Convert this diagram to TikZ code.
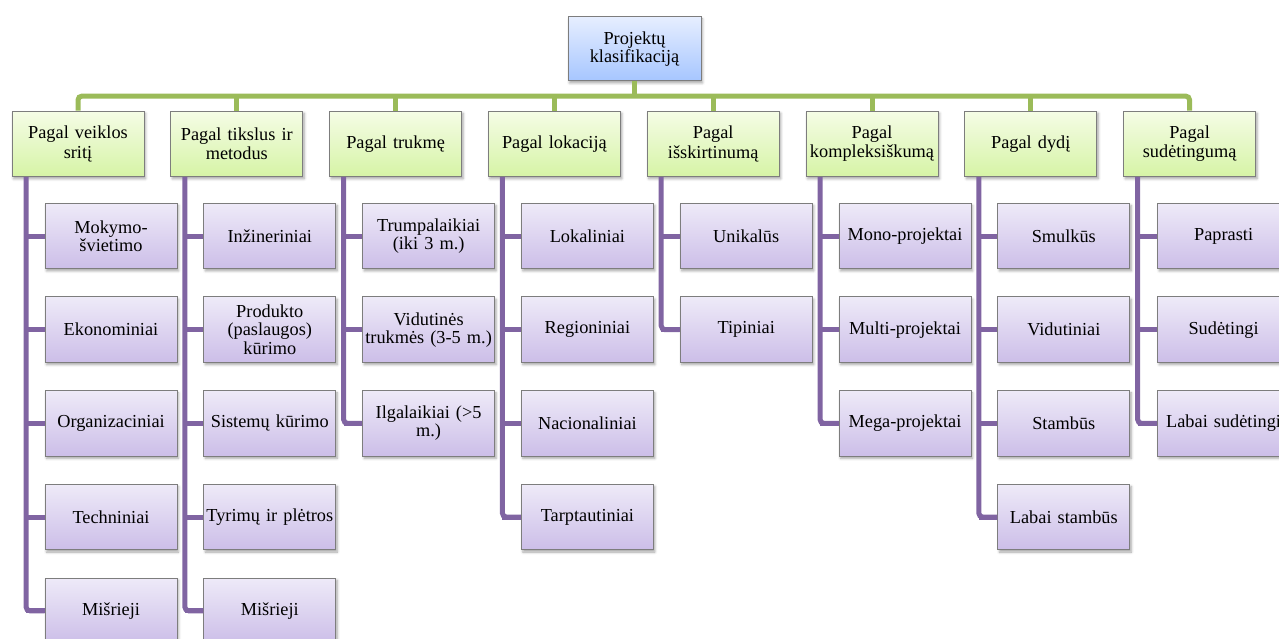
\documentclass[tikz,border=0pt]{standalone}
\usepackage{fontspec}
\setmainfont{Liberation Serif}
\usetikzlibrary{shadows.blur}

\definecolor{busgreen}{RGB}{155,187,89}
\definecolor{branchpurple}{RGB}{128,100,162}
\definecolor{boxedge}{RGB}{125,125,125}
\definecolor{rootTop}{RGB}{230,238,255}
\definecolor{rootBot}{RGB}{166,198,255}
\definecolor{catTop}{RGB}{245,252,230}
\definecolor{catBot}{RGB}{214,244,166}
\definecolor{itemTop}{RGB}{238,234,248}
\definecolor{itemBot}{RGB}{204,190,232}

% font size 18.3pt with a fixed line distance
\newcommand\nodetextsize[1]{\fontsize{18.3}{#1}\selectfont\lineskiplimit=-30pt\relax}

\tikzset{
  box/.style={draw=boxedge, line width=1pt, minimum width=132pt,
    minimum height=65.5pt, inner xsep=1pt, inner ysep=1pt,
    text width=130pt, align=center,
    blur shadow={shadow xshift=1.5pt, shadow yshift=-2.2pt,
      shadow opacity=35, shadow blur radius=2.5pt}},
  rootbox/.style={box, minimum width=133pt, minimum height=64pt,
    top color=rootTop, bottom color=rootBot, font=\nodetextsize{17.7}},
  catbox/.style={box, top color=catTop, bottom color=catBot,
    font=\nodetextsize{19.5}},
  itembox/.style={box, top color=itemTop, bottom color=itemBot,
    font=\nodetextsize{18.2}},
  bus/.style={busgreen, line width=5pt, rounded corners=4pt},
  branch/.style={branchpurple, line width=5pt, rounded corners=4pt},
}

\begin{document}
\begin{tikzpicture}[x=1pt, y=-1pt]
\useasboundingbox (0,0) rectangle (1279,639);
\clip (0,0) rectangle (1279,639);

% root
\node[rootbox] (root) at (634.5,48.8) {Projektų\\klasifikaciją};

% categories
\node[catbox] (cat1) at (78,143.8)     {Pagal veiklos\\sritį};
\node[catbox] (cat2) at (236.8,143.8)  {Pagal tikslus ir\\metodus};
\node[catbox] (cat3) at (395.6,143.8)  {Pagal trukmę};
\node[catbox] (cat4) at (554.4,143.8)  {Pagal lokaciją};
\node[catbox] (cat5) at (713.2,143.8)  {Pagal\\išskirtinumą};
\node[catbox] (cat6) at (872,143.8)    {Pagal\\kompleksiškumą};
\node[catbox] (cat7) at (1030.8,143.8) {Pagal dydį};
\node[catbox] (cat8) at (1189.6,143.8) {Pagal\\sudėtingumą};

% items of column 1
\node[itembox] (a1) at (111,236)   {Mokymo-\\švietimo};
\node[itembox] (a2) at (111,329.7) {Ekonominiai};
\node[itembox] (a3) at (111,423.4) {Organizaciniai};
\node[itembox] (a4) at (111,517.1) {Techniniai};
\node[itembox] (a5) at (111,610.8) {Mišrieji};

% items of column 2
\node[itembox] (b1) at (269.8,236)   {Inžineriniai};
\node[itembox] (b2) at (269.8,329.7) {Produkto\\(paslaugos)\\kūrimo};
\node[itembox] (b3) at (269.8,423.4) {Sistemų kūrimo};
\node[itembox] (b4) at (269.8,517.1) {Tyrimų ir plėtros};
\node[itembox] (b5) at (269.8,610.8) {Mišrieji};

% items of column 3
\node[itembox] (c1) at (428.6,236)   {Trumpalaikiai\\(iki 3 m.)};
\node[itembox] (c2) at (428.6,329.7) {Vidutinės\\trukmės (3-5 m.)};
\node[itembox] (c3) at (428.6,423.4) {Ilgalaikiai (>5\\m.)};

% items of column 4
\node[itembox] (d1) at (587.4,236)   {Lokaliniai};
\node[itembox] (d2) at (587.4,329.7) {Regioniniai};
\node[itembox] (d3) at (587.4,423.4) {Nacionaliniai};
\node[itembox] (d4) at (587.4,517.1) {Tarptautiniai};

% items of column 5
\node[itembox] (e1) at (746.2,236)   {Unikalūs};
\node[itembox] (e2) at (746.2,329.7) {Tipiniai};

% items of column 6
\node[itembox] (f1) at (905,236)   {Mono-projektai};
\node[itembox] (f2) at (905,329.7) {Multi-projektai};
\node[itembox] (f3) at (905,423.4) {Mega-projektai};

% items of column 7
\node[itembox] (g1) at (1063.8,236)   {Smulkūs};
\node[itembox] (g2) at (1063.8,329.7) {Vidutiniai};
\node[itembox] (g3) at (1063.8,423.4) {Stambūs};
\node[itembox] (g4) at (1063.8,517.1) {Labai stambūs};

% items of column 8
\node[itembox] (h1) at (1223.6,236)   {Paprasti};
\node[itembox] (h2) at (1223.6,329.7) {Sudėtingi};
\node[itembox] (h3) at (1223.6,423.4) {Labai sudėtingi};

% green bus from the root to the categories
\coordinate (hub) at ([yshift=14.5pt]root.south |- cat1.north);
\draw[bus] (root.south) -- (hub);
\draw[bus] (cat1.north) |- (hub) -| (cat8.north);
\foreach \c in {cat2,cat3,cat4,cat5,cat6,cat7}
  \draw[bus] (\c.north) -- (\c.north |- hub);

% purple spines with their branches
\foreach \c/\p/\n in {cat1/a/5, cat2/b/5, cat3/c/3, cat4/d/4,
                      cat5/e/2, cat6/f/3, cat7/g/4, cat8/h/3} {
  \coordinate (\p spine) at ([xshift=-52pt]\c.south);
  \draw[branch] (\p spine) |- (\p\n.west);
  \foreach \k in {1,...,\n}
    \draw[branch] (\p\k.west) -- (\p\k.west -| \p spine);
}
\end{tikzpicture}
\end{document}
